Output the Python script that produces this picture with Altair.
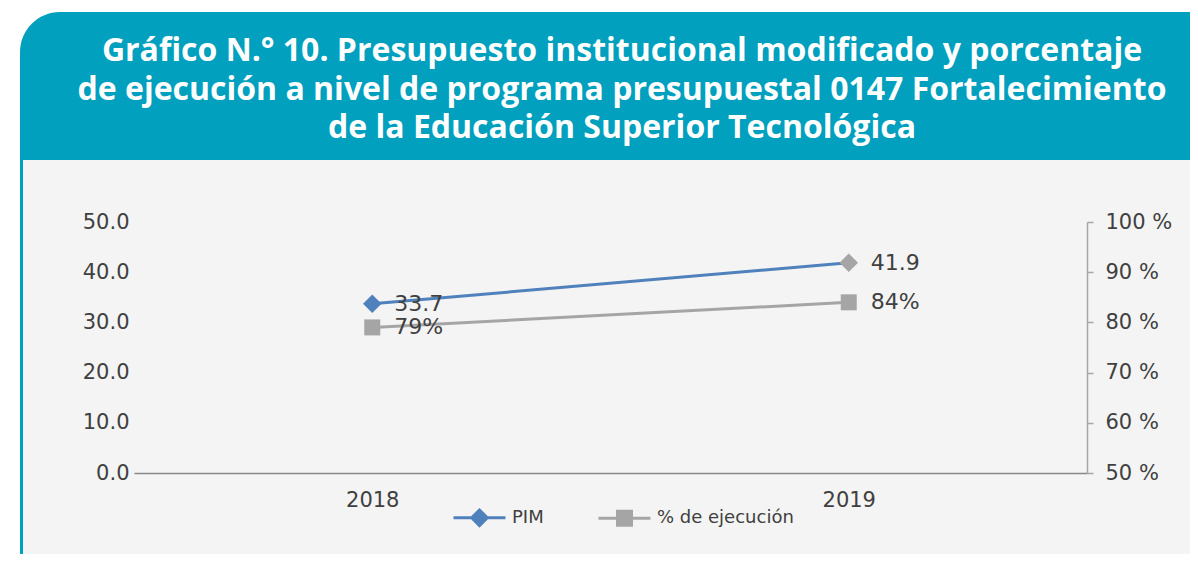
import altair as alt
import pandas as pd

# ---- data ----
years = ["2018", "2019"]
pim_values = [33.7, 41.9]
pct_values = [79, 84]
series_names = ["PIM", "% de ejecución"]
title_lines = [
    "Gráfico N.° 10. Presupuesto institucional modificado y porcentaje",
    "de ejecución a nivel de programa presupuestal 0147 Fortalecimiento",
    "de la Educación Superior Tecnológica",
]
left_ticks = [0, 10, 20, 30, 40, 50]
right_ticks = [50, 60, 70, 80, 90, 100]

df = pd.DataFrame({"year": years, "pim": pim_values, "pct": pct_values})
legend_df = pd.DataFrame({"series": series_names})

BLUE = "#4F81BD"
GREY = "#A5A5A5"
TEXT = "#404040"
TEAL = "#00A0BE"
PANEL = "#F4F4F4"
FONT = "DejaVu Sans"

W, H = 953, 251

one = alt.Data(values=[{}])

panel = alt.Chart(one).mark_rect(color=PANEL).encode(
    x=alt.value(-111), x2=alt.value(1090), y=alt.value(-62), y2=alt.value(360)
)
border = alt.Chart(one).mark_rect(color=TEAL).encode(
    x=alt.value(-114), x2=alt.value(-111), y=alt.value(-62), y2=alt.value(360)
)
header = alt.Chart(one).mark_rect(color=TEAL, cornerRadiusTopLeft=40).encode(
    x=alt.value(-114), x2=alt.value(1090), y=alt.value(-210), y2=alt.value(-62)
)
title = alt.Chart(one).mark_text(
    text=title_lines, font="Open Sans", fontWeight="bold", fontSize=32,
    color="white", align="center", baseline="alphabetic", lineHeight=38.5,
).encode(x=alt.value(488), y=alt.value(-161))

x_enc = alt.X(
    "year:O",
    scale=alt.Scale(type="point", padding=0.5),
    axis=alt.Axis(
        orient="bottom", title=None, labelAngle=0, ticks=False, grid=False,
        domainColor="#898989", domainWidth=1.5, labelFontSize=21, labelFont=FONT,
        labelColor=TEXT, labelPadding=16, zindex=1,
    ),
)

legend = alt.Legend(
    title=None, orient="none", legendX=318, legendY=268, direction="horizontal",
    symbolSize=2700, symbolStrokeWidth=3, padding=0, symbolOpacity=1,
    labelFontSize=18, labelFont=FONT, labelColor=TEXT, labelOffset=5,
    columnPadding=48,
)
shape_scale = alt.Scale(
    domain=series_names,
    range=[
        "M-1,0L1,0M0,-0.3L0.3,0L0,0.3L-0.3,0Z",
        "M-1,0L1,0M-0.27,-0.27L0.27,-0.27L0.27,0.27L-0.27,0.27Z",
    ],
)
color_scale = alt.Scale(domain=series_names, range=[BLUE, GREY])
legend_layer = alt.Chart(legend_df).transform_filter("false").mark_point(
    opacity=1, strokeWidth=3
).encode(
    shape=alt.Shape("series:N", scale=shape_scale, legend=legend),
    fill=alt.Fill("series:N", scale=color_scale, legend=legend),
    stroke=alt.Stroke("series:N", scale=color_scale, legend=legend),
)

y_left = alt.Y(
    "pim:Q",
    scale=alt.Scale(domain=[0, 50]),
    axis=alt.Axis(
        orient="left", title=None, values=left_ticks, format=".1f", domain=False,
        ticks=False, grid=False, labelFontSize=21, labelFont=FONT,
        labelColor=TEXT, labelPadding=5, zindex=1,
    ),
)
y_right = alt.Y(
    "pct:Q",
    scale=alt.Scale(domain=[50, 100]),
    axis=alt.Axis(
        orient="right", title=None, values=right_ticks,
        labelExpr="datum.value + ' %'", domain=True, domainColor="#A6A6A6",
        domainWidth=1.5, ticks=True, tickSize=6, tickColor="#A6A6A6", tickWidth=1.5,
        grid=False, labelFontSize=21, labelFont=FONT, labelColor=TEXT,
        labelPadding=12, zindex=1,
    ),
)

base = alt.Chart(df)

pim_line = base.mark_line(strokeWidth=3, color=BLUE)
pim_pts = base.mark_point(filled=True, shape="diamond", size=340, opacity=1).encode(
    color=alt.condition("datum.year == '2019'", alt.value(GREY), alt.value(BLUE))
)
pim_txt = base.mark_text(align="left", dx=22, baseline="middle", fontSize=22,
                         font=FONT, color=TEXT).encode(
    text=alt.Text("pim:Q", format=".1f")
)
pim_layer = alt.layer(pim_line, pim_pts, pim_txt).encode(x=x_enc, y=y_left)

pct_line = base.mark_line(strokeWidth=3, color=GREY)
pct_pts = base.mark_point(filled=True, shape="square", size=256, opacity=1, color=GREY)
pct_txt = base.mark_text(align="left", dx=22, baseline="middle", fontSize=22,
                         font=FONT, color=TEXT).transform_calculate(
    lab="datum.pct + '%'"
).encode(text="lab:N")
pct_layer = alt.layer(pct_line, pct_pts, pct_txt).encode(x=x_enc, y=y_right)

chart = alt.layer(panel, border, header, title, pim_layer, pct_layer, legend_layer).resolve_scale(
    y="independent"
).properties(
    width=W, height=H,
    padding={"left": 126, "top": 214, "right": 103, "bottom": 81},
    autosize=alt.AutoSizeParams(type="none"),
    background="white",
).configure_view(stroke=None)

chart.save("out.html", embed_options={"renderer": "svg", "actions": False})
